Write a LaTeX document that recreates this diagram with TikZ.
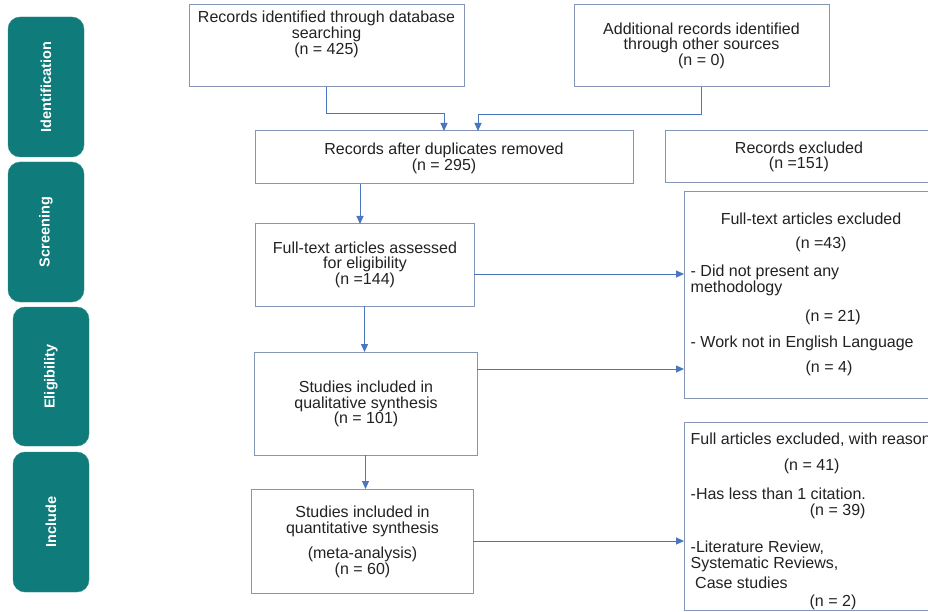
\documentclass[tikz,border=0pt]{standalone}
\usepackage{fontspec}
\setmainfont{Liberation Sans}
\usetikzlibrary{arrows.meta}
\definecolor{boxcol}{HTML}{8596B5}
\definecolor{arrcol}{HTML}{4A76C0}
\definecolor{txtcol}{HTML}{222222}
\definecolor{phasecol}{HTML}{0F7B7A}
\begin{document}
\begin{tikzpicture}[x=1pt,y=-1pt,
  box/.style={draw=boxcol, line width=1pt, inner sep=0pt, outer sep=0pt, anchor=north west},
  phase/.style={fill=phasecol, draw=phasecol!85!white, rounded corners=12pt, rotate=90, text=white,
    font=\fontsize{14.5}{15}\selectfont\bfseries, inner sep=0pt, minimum height=76pt},
  txt/.style={inner sep=0pt, anchor=base, text=txtcol, font=\fontsize{16}{16}\selectfont},
  ltxt/.style={txt, anchor=base west},
  arr/.style={draw=arrcol, line width=1pt, -{Triangle[length=8pt,width=7pt]}}]
\useasboundingbox (0,0) rectangle (928,612);
\clip (0,0) rectangle (928,612);
\fill[white] (0,0) rectangle (928,612);

% phase labels
\node[phase, minimum width=140pt] (p1) at (46,87) {Identification};
\node[phase, minimum width=140pt] (p2) at (46,232) {Screening};
\node[phase, minimum width=139pt] (p3) at (51,376.5) {Eligibility};
\node[phase, minimum width=140pt] (p4) at (51,522) {Include};

% boxes
\node[box, minimum width=275pt, minimum height=82pt] (b1) at (189,5) {};
\node[box, minimum width=255pt, minimum height=82pt] (b2) at (574,5) {};
\node[box, minimum width=378pt, minimum height=53pt] (b3) at (255,131) {};
\node[box, minimum width=275pt, minimum height=52pt] (b4) at (665,131) {};
\node[box, minimum width=219pt, minimum height=82pt] (b5) at (255,224) {};
\node[box, minimum width=256pt, minimum height=206pt] (b6) at (684,192) {};
\node[box, minimum width=223pt, minimum height=103pt] (b7) at (254,352) {};
\node[box, minimum width=222pt, minimum height=104pt] (b8) at (251,489) {};
\node[box, minimum width=256pt, minimum height=188.5pt] (b9) at (684,422) {};

% texts
\node[txt] (t1a) at (326.5,23) {Records identified through database};
\node[txt] (t1b) at (326.5,39) {searching};
\node[txt] (t1c) at (326.5,55) {(n = 425)};

\node[txt] (t2a) at (701.5,34.5) {Additional records identified};
\node[txt] (t2b) at (701.5,50) {through other sources};
\node[txt] (t2c) at (701.5,66) {(n = 0)};

\node[txt] (t3a) at (444,155) {Records after duplicates removed};
\node[txt] (t3b) at (444,170.5) {(n = 295)};

\node[txt] (t4a) at (799,154) {Records excluded};
\node[txt] (t4b) at (799,168.5) {(n =151)};

\node[txt] (t5a) at (365,253) {Full-text articles assessed};
\node[txt] (t5b) at (365,269) {for eligibility};
\node[txt] (t5c) at (365,284.5) {(n =144)};

\node[txt] (t7a) at (366,392) {Studies included in};
\node[txt] (t7b) at (366,408) {qualitative synthesis};
\node[txt] (t7c) at (366,423.5) {(n = 101)};

\node[txt] (t8a) at (362.5,517) {Studies included in};
\node[txt] (t8b) at (362.5,533) {quantitative synthesis};
\node[txt] (t8c) at (362.5,558) {(meta-analysis)};
\node[txt] (t8d) at (362.5,574) {(n = 60)};

\node[txt] (t6a) at (811,225) {Full-text articles excluded};
\node[txt] (t6b) at (821,248.5) {(n =43)};
\node[ltxt] (t6c) at (690.5,276.5) {- Did not present any};
\node[ltxt] (t6d) at (690.5,292) {methodology};
\node[txt] (t6e) at (833,321.5) {(n = 21)};
\node[ltxt] (t6f) at (690.5,347) {- Work not in English Language};
\node[txt] (t6g) at (829,372.5) {(n = 4)};

\node[ltxt] (t9a) at (690.5,444) {Full articles excluded, with reason};
\node[txt] (t9b) at (811.7,470) {(n = 41)};
\node[ltxt] (t9c) at (690.5,499) {-Has less than 1 citation.};
\node[txt] (t9d) at (837.7,515) {(n = 39)};
\node[ltxt] (t9e) at (690.5,552.5) {-Literature Review,};
\node[ltxt] (t9f) at (690.5,568) {Systematic Reviews,};
\node[ltxt] (t9g) at (695,588) {Case studies};
\node[txt] (t9h) at (833,606) {(n = 2)};

% connectors
\draw[arr] (b1.south) -- ++(0,27) -| (b3.north);
\draw[arr] (b2.south) -- ++(0,28) -| ([xshift=34pt]b3.north);
\draw[arr] ([xshift=-84pt]b3.south) -- ([xshift=-84pt]b3.south |- b5.north);
\draw[arr] (b5.south) -- (b5.south |- b7.north);
\draw[arr] (b7.south) -- (b7.south |- b8.north);
\draw[arr] ([yshift=-9pt]b5.east) -- ([yshift=-9pt]b5.east -| b6.west);
\draw[arr] ([yshift=34.5pt]b7.east) -- ([yshift=34.5pt]b7.east -| b6.west);
\draw[arr] (b8.east) -- (b8.east -| b9.west);
\end{tikzpicture}
\end{document}
